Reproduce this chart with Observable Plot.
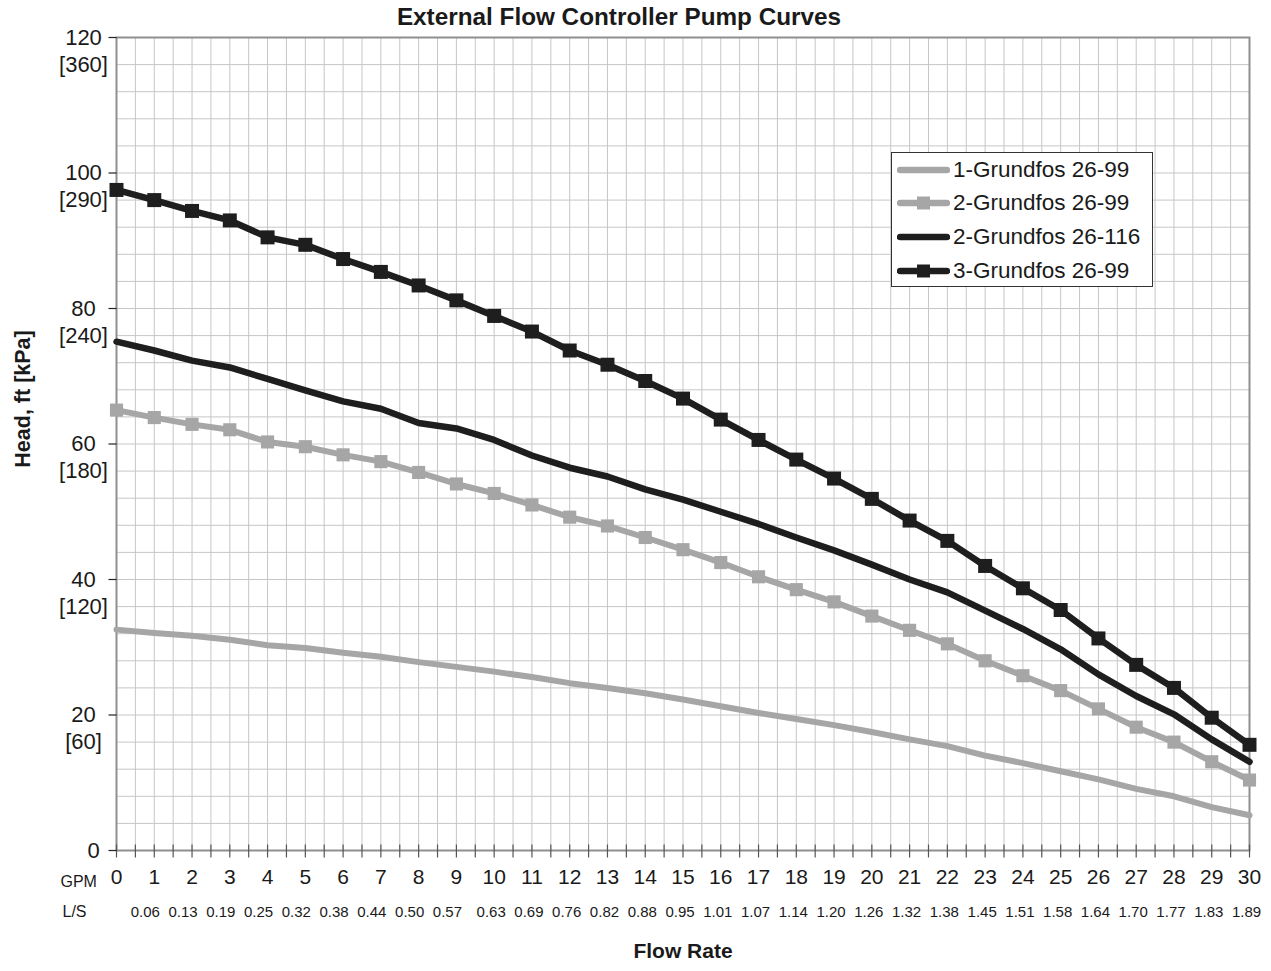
<!DOCTYPE html>
<html>
<head>
<meta charset="utf-8">
<script src="https://cdn.jsdelivr.net/npm/d3@7"></script>
<script src="https://cdn.jsdelivr.net/npm/@observablehq/plot@0.6"></script>
<style>
  body { margin: 0; background: #fff; font-family: "Liberation Sans", Arial, sans-serif; }
  #wrap { position: relative; width: 1271px; height: 971px; overflow: hidden; }
  #title { position: absolute; left: 0; top: 3px; width: 1238px; text-align: center;
           font-weight: bold; font-size: 24.3px; line-height: 27px; color: #1a1a1a; }
  #chart { position: absolute; left: 0; top: 30px; }
  #legend { position: absolute; left: 891px; top: 152px; width: 260px; height: 133px;
            border: 1.5px solid #333; background: #fff; box-sizing: content-box; }
  .row { display: flex; align-items: center; height: 33.6px; padding-left: 5px; }
  .row span { font-size: 22.5px; color: #1a1a1a; margin-left: 3px; white-space: nowrap; }
</style>
</head>
<body>
<div id="wrap">
  <div id="title">External Flow Controller Pump Curves</div>
  <div id="chart"></div>
  <div id="legend"></div>
</div>
<script>
// ---- data ----
const gpm = d3.range(0, 31);
const lsLabels = ["", "0.06", "0.13", "0.19", "0.25", "0.32", "0.38", "0.44", "0.50", "0.57",
  "0.63", "0.69", "0.76", "0.82", "0.88", "0.95", "1.01", "1.07", "1.14", "1.20",
  "1.26", "1.32", "1.38", "1.45", "1.51", "1.58", "1.64", "1.70", "1.77", "1.83", "1.89"];
const yTicks = [0, 20, 40, 60, 80, 100, 120];
const kpaLabels = ["", "[60]", "[120]", "[180]", "[240]", "[290]", "[360]"];
const seriesNames = ["1-Grundfos 26-99", "2-Grundfos 26-99", "2-Grundfos 26-116", "3-Grundfos 26-99"];

const one2699 = [32.6, 32.1, 31.7, 31.1, 30.3, 29.9, 29.2, 28.6, 27.8, 27.1, 26.4, 25.6, 24.7, 24.0, 23.2,
  22.3, 21.3, 20.3, 19.4, 18.5, 17.5, 16.4, 15.4, 14.0, 12.9, 11.7, 10.5, 9.1, 8.0, 6.4, 5.2];
const two2699 = [65.0, 63.9, 62.9, 62.1, 60.3, 59.6, 58.4, 57.4, 55.8, 54.1, 52.7, 51.0, 49.2, 47.9, 46.2,
  44.4, 42.5, 40.4, 38.5, 36.7, 34.6, 32.5, 30.5, 28.0, 25.8, 23.6, 20.9, 18.2, 16.0, 13.1, 10.4];
const two26116 = [75.1, 73.8, 72.3, 71.3, 69.6, 67.9, 66.3, 65.2, 63.1, 62.3, 60.6, 58.3, 56.5, 55.2, 53.3,
  51.8, 50.0, 48.2, 46.2, 44.3, 42.2, 40.0, 38.1, 35.4, 32.7, 29.7, 26.0, 22.8, 20.1, 16.4, 13.1];
const three2699 = [97.5, 96.0, 94.4, 93.0, 90.5, 89.4, 87.3, 85.4, 83.4, 81.2, 78.9, 76.6, 73.8, 71.7, 69.3,
  66.7, 63.6, 60.6, 57.7, 54.9, 51.9, 48.7, 45.7, 42.0, 38.7, 35.5, 31.3, 27.4, 24.0, 19.6, 15.6];

const GRAY = "#a6a6a6", BLACK = "#1e1e1e";
const toRows = (vals) => vals.map((v, i) => ({x: gpm[i], y: v}));
const r1 = toRows(one2699), r2 = toRows(two2699), r3 = toRows(two26116), r4 = toRows(three2699);

const xMinor = d3.range(0, 61).map(i => i / 2);
const yMinor = d3.range(0, 31).map(i => i * 4);

const vTick = {draw(ctx) { ctx.moveTo(0, -6); ctx.lineTo(0, 7); }};
const hTick = {draw(ctx) { ctx.moveTo(-8, 0); ctx.lineTo(0, 0); }};

const lsRows = gpm.map((g, i) => ({x: g, t: lsLabels[i]})).filter(d => d.t !== "");
const kRows = yTicks.map((v, i) => ({y: v, t: kpaLabels[i]})).filter(d => d.t !== "");
const TXT = "#1a1a1a";

const chart = Plot.plot({
  width: 1271,
  height: 941,
  marginTop: 7,
  marginBottom: 121,
  marginLeft: 116,
  marginRight: 22,
  style: {fontFamily: '"Liberation Sans", Arial, sans-serif', background: "white", overflow: "visible"},
  x: {domain: [0, 30], label: null, axis: null},
  y: {domain: [0, 120], label: null, axis: null},
  marks: [
    Plot.gridX(xMinor, {stroke: "#c6c6c6", strokeOpacity: 1, strokeWidth: 1}),
    Plot.gridY(yMinor, {stroke: "#c6c6c6", strokeOpacity: 1, strokeWidth: 1}),
    Plot.frame({stroke: "#8f8f8f", strokeWidth: 2}),
    Plot.dot(xMinor, {x: d => d, frameAnchor: "bottom", symbol: vTick, stroke: "#555", strokeWidth: 1.2, fill: "none"}),
    Plot.dot(yTicks, {y: d => d, frameAnchor: "left", symbol: hTick, stroke: "#222", strokeWidth: 1.2, fill: "none"}),
    // series
    Plot.line(r1, {x: "x", y: "y", stroke: GRAY, strokeWidth: 6, strokeLinecap: "round", strokeLinejoin: "round"}),
    Plot.line(r2, {x: "x", y: "y", stroke: GRAY, strokeWidth: 6, strokeLinecap: "round", strokeLinejoin: "round"}),
    Plot.dot(r2, {x: "x", y: "y", symbol: "square", r: 7.4, fill: GRAY, stroke: null}),
    Plot.line(r3, {x: "x", y: "y", stroke: BLACK, strokeWidth: 6.5, strokeLinecap: "round", strokeLinejoin: "round"}),
    Plot.line(r4, {x: "x", y: "y", stroke: BLACK, strokeWidth: 6.5, strokeLinecap: "round", strokeLinejoin: "round"}),
    Plot.dot(r4, {x: "x", y: "y", symbol: "square", r: 7.9, fill: BLACK, stroke: null}),
    // y tick labels
    Plot.text(yTicks.filter(d => d > 0), {y: d => d, text: d => String(d), frameAnchor: "left", dx: -33, textAnchor: "middle", fontSize: 22, fill: TXT}),
    Plot.text([0], {y: d => d, text: d => String(d), frameAnchor: "left", dx: -23, textAnchor: "middle", fontSize: 22, fill: TXT}),
    Plot.text(kRows, {y: "y", text: "t", frameAnchor: "left", dx: -33, dy: 27, textAnchor: "middle", fontSize: 22, fill: TXT}),
    // x tick labels
    Plot.text(gpm, {x: d => d, text: d => String(d), frameAnchor: "bottom", dy: 33, fontSize: 21, fill: TXT}),
    Plot.text(lsRows.filter(d => d.x < 10), {x: "x", text: "t", frameAnchor: "bottom", dy: 66, dx: -9, fontSize: 15, fill: TXT}),
    Plot.text(lsRows.filter(d => d.x >= 10), {x: "x", text: "t", frameAnchor: "bottom", dy: 66, dx: -3, fontSize: 15, fill: TXT}),
    Plot.text(["GPM"], {frameAnchor: "bottom-left", dx: -56, dy: 36, textAnchor: "start", fontSize: 16, fill: TXT}),
    Plot.text(["L/S"], {frameAnchor: "bottom-left", dx: -54, dy: 66.5, textAnchor: "start", fontSize: 16, fill: TXT}),
    // axis titles
    Plot.text(["Flow Rate"], {frameAnchor: "bottom", dy: 107, textAnchor: "middle", fontSize: 21, fontWeight: "bold", fill: TXT}),
    Plot.text(["Head, ft [kPa]"], {frameAnchor: "left", dx: -93, dy: -45, rotate: -90, textAnchor: "middle", fontSize: 21.5, fontWeight: "bold", fill: TXT})
  ]
});
document.getElementById("chart").appendChild(chart);

// legend
const legendSpec = [
  {name: seriesNames[0], color: GRAY, marker: false},
  {name: seriesNames[1], color: GRAY, marker: true},
  {name: seriesNames[2], color: BLACK, marker: false},
  {name: seriesNames[3], color: BLACK, marker: true}
];
const legend = d3.select("#legend");
legendSpec.forEach(s => {
  const row = legend.append("div").attr("class", "row");
  const svg = row.append("svg").attr("width", 53).attr("height", 20);
  svg.append("line").attr("x1", 3).attr("x2", 50).attr("y1", 10).attr("y2", 10)
    .attr("stroke", s.color).attr("stroke-width", 6.5).attr("stroke-linecap", "round");
  if (s.marker) svg.append("rect").attr("x", 20).attr("y", 3.5).attr("width", 13).attr("height", 13).attr("fill", s.color);
  row.append("span").text(s.name);
});
</script>
</body>
</html>
